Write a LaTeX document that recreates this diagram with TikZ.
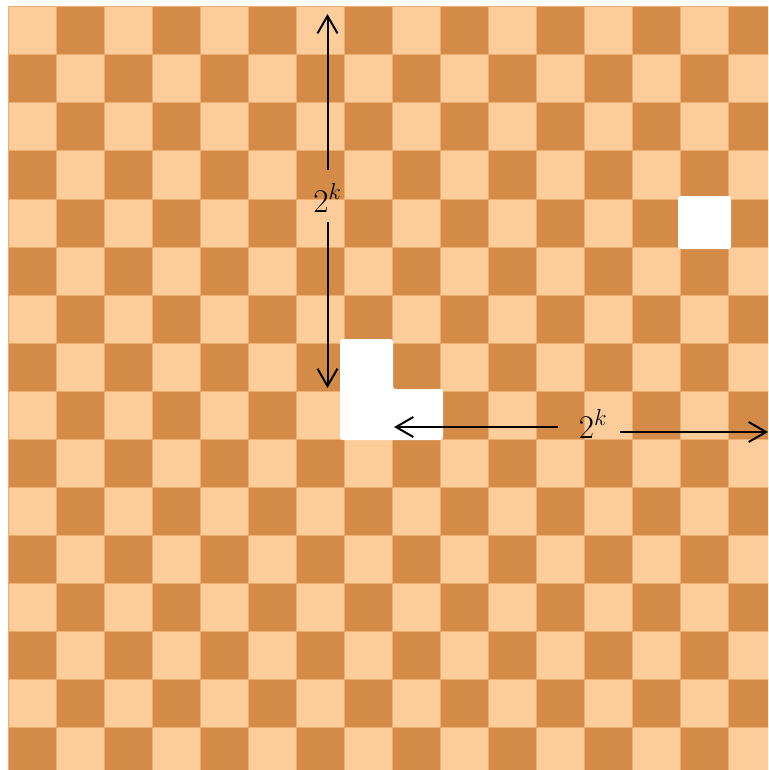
\documentclass[tikz,border=0pt]{standalone}
\usetikzlibrary{arrows.meta}
\definecolor{lightsq}{RGB}{253,204,155}
\definecolor{darksq}{RGB}{211,139,71}
\definecolor{edgesq}{RGB}{238,172,110}
\begin{document}
\begin{tikzpicture}[x=0.75pt,y=-0.75pt,
  sq/.style={draw=edgesq,line width=0.75pt},
  hole/.style={fill=white,rounded corners=2pt},
  dim/.style={line width=1.5pt,-{Straight Barb[length=13pt,width=15pt,line width=1.5pt]}},
  lbl/.style={inner sep=0pt,anchor=base,font=\fontsize{25}{29}\selectfont}]
\useasboundingbox (0,0) rectangle (768,770);
\clip (0,0) rectangle (768,770);
\fill[white] (0,0) rectangle (768,770);
\foreach \i in {0,...,15} {
  \foreach \j in {0,...,15} {
    \pgfmathtruncatemacro\p{mod(\i+\j,2)}
    \ifnum\p=0 \def\col{lightsq}\else\def\col{darksq}\fi
    \path[sq,fill=\col] (8+48*\i,7+48*\j) rectangle +(48,48);
  }
}
% missing squares
\path[hole] (678,196) rectangle (731,249);
\path[hole] (340,339) -- (393,339) -- (393,389) -- (443,389) -- (443,440) -- (340,440) -- cycle;
% vertical dimension
\node[lbl] (vl) at (327.5,212) {$2^k$};
\coordinate (vt) at (327.5,14);
\coordinate (vb) at (327.5,388);
\coordinate (vg1) at (327.5,170);
\coordinate (vg2) at (327.5,222);
\draw[dim] (vg1) -- (vt);
\draw[dim] (vg2) -- (vb);
% horizontal dimension
\node[lbl] (hl) at (593,438) {$2^k$};
\coordinate (hlft) at (394,427);
\coordinate (hrt) at (768,432);
\coordinate (hg1) at (558,427);
\coordinate (hg2) at (620,432);
\draw[dim] (hg1) -- (hlft);
\draw[dim] (hg2) -- (hrt);
\end{tikzpicture}
\end{document}
